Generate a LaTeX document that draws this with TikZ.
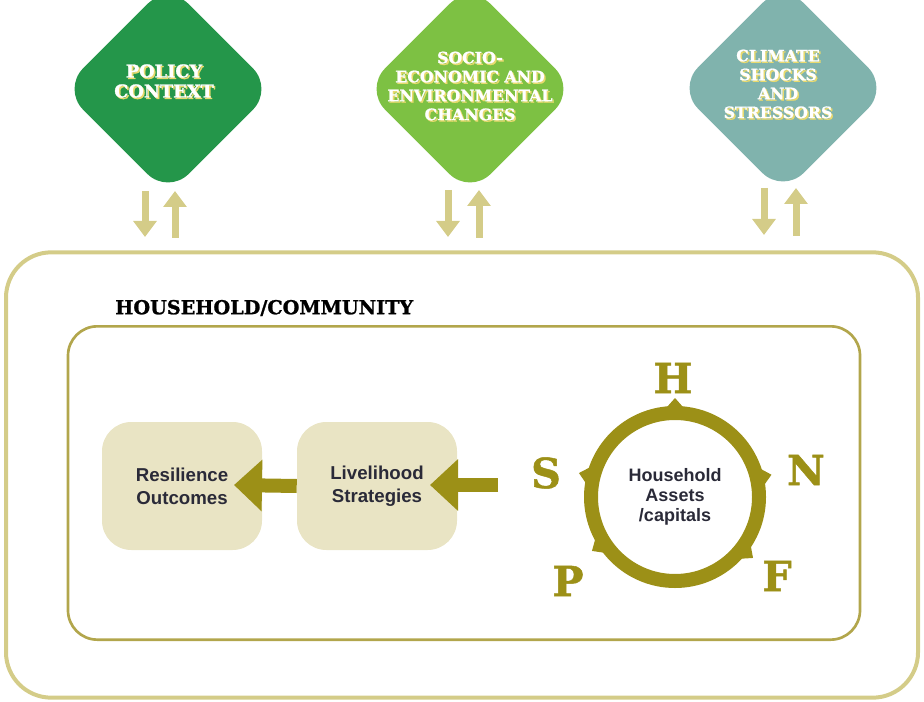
\documentclass[tikz,border=0pt]{standalone}
\usepackage{fontspec}
\setmainfont{Liberation Sans}
\newfontfamily\slabfont{DejaVu Serif}[BoldFont={DejaVu Serif Bold}, BoldFeatures={FakeBold=1.2}]
\usetikzlibrary{arrows.meta}
\definecolor{policyg}{HTML}{24964A}
\definecolor{sociog}{HTML}{7DC143}
\definecolor{climateg}{HTML}{80B3AD}
\definecolor{khaki}{HTML}{D4CC88}
\definecolor{innerline}{HTML}{B2A64C}
\definecolor{boxfill}{HTML}{E9E4C4}
\definecolor{olive}{HTML}{9C9017}
\definecolor{shadowy}{HTML}{E9DA6E}
\definecolor{textdark}{HTML}{2A2A38}
\begin{document}
\begin{tikzpicture}[x=0.75pt,y=-0.75pt,
  diam/.style={fill=#1, rotate=45, minimum size=112pt, rounded corners=22pt, inner sep=0pt},
  dtxt/.style={align=center, inner sep=0pt, font=\slabfont\bfseries\fontsize{11.8}{14.2}\selectfont},
  dtxtbig/.style={align=center, inner sep=0pt, font=\slabfont\bfseries\fontsize{13.3}{15}\selectfont},
  karrow/.style={draw=khaki, line width=5.25pt, -{Triangle[width=17pt,length=12pt]}},
  oarrow/.style={draw=olive, line width=10.5pt, -{Triangle[width=37.5pt,length=21pt]}},
  stagebox/.style={fill=boxfill, minimum width=120pt, minimum height=96pt, rounded corners=22pt,
     align=center, text=textdark, font=\bfseries\fontsize{14}{17.5}\selectfont},
  capletter/.style={text=olive, font=\slabfont\bfseries\fontsize{31}{31}\selectfont, inner sep=0pt},
  notch/.style={fill=olive}
]
\useasboundingbox (0,0) rectangle (924,702);

% diamonds
\node[diam=policyg] (policy) at (168,89) {};
\node[diam=sociog] (socio) at (470,89) {};
\node[diam=climateg] (climate) at (783,88) {};

% diamond texts (shadow + white)
\node[dtxtbig, text=shadowy] at (165.5,82.5) {POLICY\\CONTEXT};
\node[dtxtbig, text=white] (policyt) at (164,81) {POLICY\\CONTEXT};
\node[dtxt, text=shadowy] at (471.5,87.5) {SOCIO-\\ECONOMIC AND\\ENVIRONMENTAL\\CHANGES};
\node[dtxt, text=white] (sociot) at (470,86) {SOCIO-\\ECONOMIC AND\\ENVIRONMENTAL\\CHANGES};
\node[dtxt, text=shadowy] at (779.5,85.5) {CLIMATE\\SHOCKS\\AND\\STRESSORS};
\node[dtxt, text=white] (climatet) at (778,84) {CLIMATE\\SHOCKS\\AND\\STRESSORS};

% outer and inner frames
\node[draw=khaki, line width=3pt, rounded corners=34pt, minimum width=684pt, minimum height=334pt, inner sep=0pt] (outer) at (462,475) {};
\node[draw=innerline, line width=2pt, rounded corners=22pt, minimum width=594pt, minimum height=235pt, inner sep=0pt] (inner) at (464,483) {};
\node[anchor=west, inner sep=0pt, font=\slabfont\bfseries\fontsize{14.4}{15}\selectfont] (hhlabel) at (115,308) {HOUSEHOLD/COMMUNITY};

% khaki up/down arrow pairs
\coordinate (pd1) at (145,191); \coordinate (pd2) at (145,237);
\coordinate (pu1) at (175,238); \coordinate (pu2) at (175,191);
\coordinate (sd1) at (448,190); \coordinate (sd2) at (448,237);
\coordinate (su1) at (479,238); \coordinate (su2) at (479,190);
\coordinate (cd1) at (764,188); \coordinate (cd2) at (764,235);
\coordinate (cu1) at (796,236); \coordinate (cu2) at (796,188);
\draw[karrow] (pd1) -- (pd2);
\draw[karrow] (pu1) -- (pu2);
\draw[karrow] (sd1) -- (sd2);
\draw[karrow] (su1) -- (su2);
\draw[karrow] (cd1) -- (cd2);
\draw[karrow] (cu1) -- (cu2);

% stage boxes
\node[stagebox] (res) at (182,486) {Resilience\\Outcomes};
\node[stagebox] (liv) at (377,486) {Livelihood\\Strategies};

% olive arrows
\coordinate (a1tip) at (234,485);
\coordinate (a2start) at (498,485);
\coordinate (a2tip) at (430,485);
\draw[oarrow] (liv.west) -- (a1tip);
\draw[oarrow] (a2start) -- (a2tip);

% assets circle
\node[circle, draw=olive, line width=10.5pt, minimum size=126pt, inner sep=0pt, align=center,
      text=textdark, font=\bfseries\fontsize{13.5}{15}\selectfont] (assets) at (675,497) {Household\\Assets\\/capitals};
\begin{scope}[shift={(675,497)}]
  \foreach \a in {-90,-13,-166,147,38} {
    \fill[notch] (\a+6:89) -- (\a:99) -- (\a-6:89) -- cycle;
  }
\end{scope}

% capital letters
\node[capletter] (H) at (673,378) {H};
\node[capletter] (N) at (806,470) {N};
\node[capletter] (F) at (777,576) {F};
\node[capletter] (P) at (568,581) {P};
\node[capletter] (S) at (546,473) {S};
\end{tikzpicture}
\end{document}
